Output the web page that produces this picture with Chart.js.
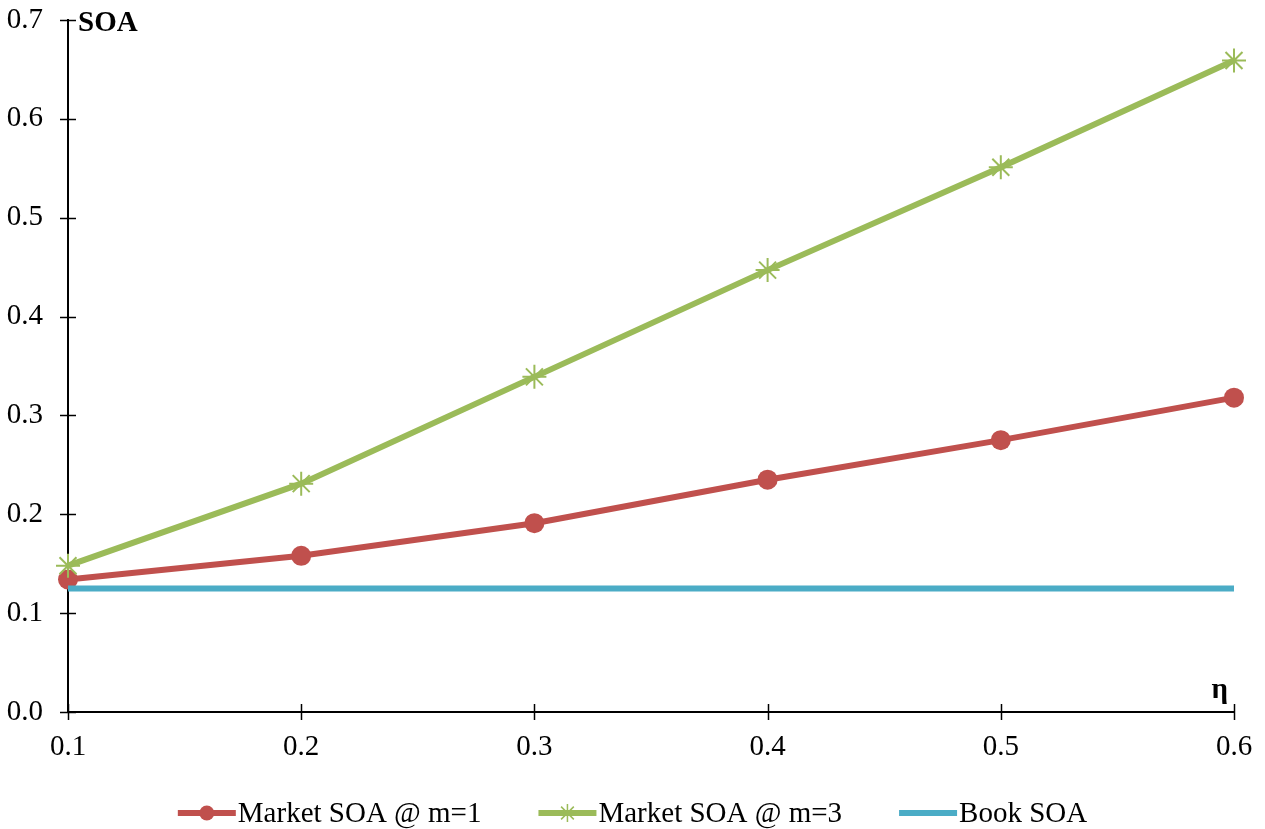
<!DOCTYPE html>
<html><head><meta charset="utf-8">
<script src="https://cdn.jsdelivr.net/npm/chart.js@4/dist/chart.umd.min.js"></script>
<style>html,body{margin:0;padding:0;background:#fff;}canvas{display:block;}</style>
</head><body>
<canvas id="c" width="1265" height="829"></canvas>
<script>
const etaValues = [0.1, 0.2, 0.3, 0.4, 0.5, 0.6];
const marketSOA_m1 = [0.134, 0.158, 0.191, 0.235, 0.275, 0.318];
const marketSOA_m3 = [0.148, 0.231, 0.339, 0.447, 0.551, 0.659];
const bookSOA = [0.125, 0.125, 0.125, 0.125, 0.125, 0.125];
const seriesLabels = ['Market SOA @ m=1', 'Market SOA @ m=3', 'Book SOA'];
const yAxisTitle = 'SOA';
const xAxisTitle = 'η';

const FONT = '"Liberation Serif", "Times New Roman", serif';
const FS = 29;
const RED = '#C0504D', GREEN = '#9BBB59', BLUE = '#4BACC6';

function pts(vals){ return etaValues.map((x,i)=>({x:x, y:vals[i]})); }

const crossTicks = {
  id:'crossTicks',
  afterDraw(chart){
    const ctx = chart.ctx, xs = chart.scales.x, ys = chart.scales.y;
    ctx.save();
    ctx.strokeStyle = '#000'; ctx.lineWidth = 1.5;
    ys.ticks.forEach(t=>{
      const y = Math.round(ys.getPixelForValue(t.value))+0.5;
      ctx.beginPath(); ctx.moveTo(xs.left-8, y); ctx.lineTo(xs.left+8, y); ctx.stroke();
    });
    xs.ticks.forEach(t=>{
      const x = Math.round(xs.getPixelForValue(t.value))+0.5;
      ctx.beginPath(); ctx.moveTo(x, ys.bottom-8); ctx.lineTo(x, ys.bottom+8); ctx.stroke();
    });
    ctx.fillStyle = '#000';
    ctx.font = 'bold ' + FS + 'px ' + FONT;
    ctx.textAlign = 'left'; ctx.textBaseline = 'alphabetic';
    ctx.fillText(yAxisTitle, xs.left + 10, ys.top + 11);
    ctx.textAlign = 'right';
    ctx.fillText(xAxisTitle, xs.right - 6, ys.bottom - 14);
    const items = [
      {label: seriesLabels[0], color: RED, marker: 'circle'},
      {label: seriesLabels[1], color: GREEN, marker: 'star'},
      {label: seriesLabels[2], color: BLUE, marker: null}
    ];
    ctx.font = FS + 'px ' + FONT;
    const lineW = 58, gapText = 2, gapItem = 57;
    let total = 0;
    items.forEach((it,i)=>{ it.w = ctx.measureText(it.label).width; total += lineW + gapText + it.w + (i<items.length-1?gapItem:0); });
    let x = chart.width/2 - total/2;
    const ly = 813;
    items.forEach(it=>{
      ctx.strokeStyle = it.color; ctx.lineWidth = 6; ctx.lineCap = 'butt';
      ctx.beginPath(); ctx.moveTo(x, ly); ctx.lineTo(x+lineW, ly); ctx.stroke();
      const cx = x + lineW/2;
      if (it.marker === 'circle'){
        ctx.fillStyle = it.color; ctx.beginPath(); ctx.arc(cx, ly, 7.5, 0, Math.PI*2); ctx.fill();
      } else if (it.marker === 'star'){
        ctx.lineWidth = 1.5; const r = 9;
        ctx.beginPath();
        for (let k=0;k<4;k++){ const a = k*Math.PI/4; ctx.moveTo(cx+Math.cos(a)*r, ly+Math.sin(a)*r); ctx.lineTo(cx-Math.cos(a)*r, ly-Math.sin(a)*r); }
        ctx.stroke();
      }
      ctx.fillStyle = '#000'; ctx.textAlign = 'left'; ctx.textBaseline = 'middle';
      ctx.fillText(it.label, x + lineW + gapText, ly + 1);
      x += lineW + gapText + it.w + gapItem;
    });
    ctx.restore();
  }
};

new Chart(document.getElementById('c'), {
  type: 'line',
  data: {
    datasets: [
      {label: seriesLabels[0], data: pts(marketSOA_m1), borderColor: RED, backgroundColor: RED,
       borderWidth: 6, pointRadius: 10, pointStyle: 'circle', pointBorderWidth: 0, order: 3, clip: false},
      {label: seriesLabels[2], data: pts(bookSOA), borderColor: BLUE, backgroundColor: BLUE,
       borderWidth: 6, pointRadius: 0, order: 2, clip: false},
      {label: seriesLabels[1], data: pts(marketSOA_m3), borderColor: GREEN, backgroundColor: GREEN,
       borderWidth: 6, pointRadius: 12, pointStyle: 'star', pointBorderWidth: 2, order: 1, clip: false}
    ]
  },
  options: {
    responsive: false, animation: false, devicePixelRatio: 1,
    layout: {padding: {top: 20, right: 31, bottom: 40, left: 0}},
    plugins: {legend: {display: false}, tooltip: {enabled: false}},
    elements: {line: {tension: 0}},
    scales: {
      x: {type: 'linear', min: 0.1, max: 0.6,
          grid: {display: false}, border: {display: true, color: '#000', width: 2},
          ticks: {stepSize: 0.1, autoSkip: false, maxRotation: 0, padding: 10, color: '#000',
                  font: {family: FONT, size: FS}, callback: v => Number(v).toFixed(1)},
          afterFit: s => { s.height = 77; s.paddingLeft = 0; s.paddingRight = 0; }},
      y: {min: 0, max: 0.7,
          grid: {display: false}, border: {display: true, color: '#000', width: 2},
          ticks: {stepSize: 0.1, autoSkip: false, padding: 17, color: '#000',
                  font: {family: FONT, size: FS}, callback: v => Number(v).toFixed(1)},
          afterFit: s => { s.width = 68; s.paddingTop = 0; s.paddingBottom = 0; }}
    }
  },
  plugins: [crossTicks]
});
</script>
</body></html>
